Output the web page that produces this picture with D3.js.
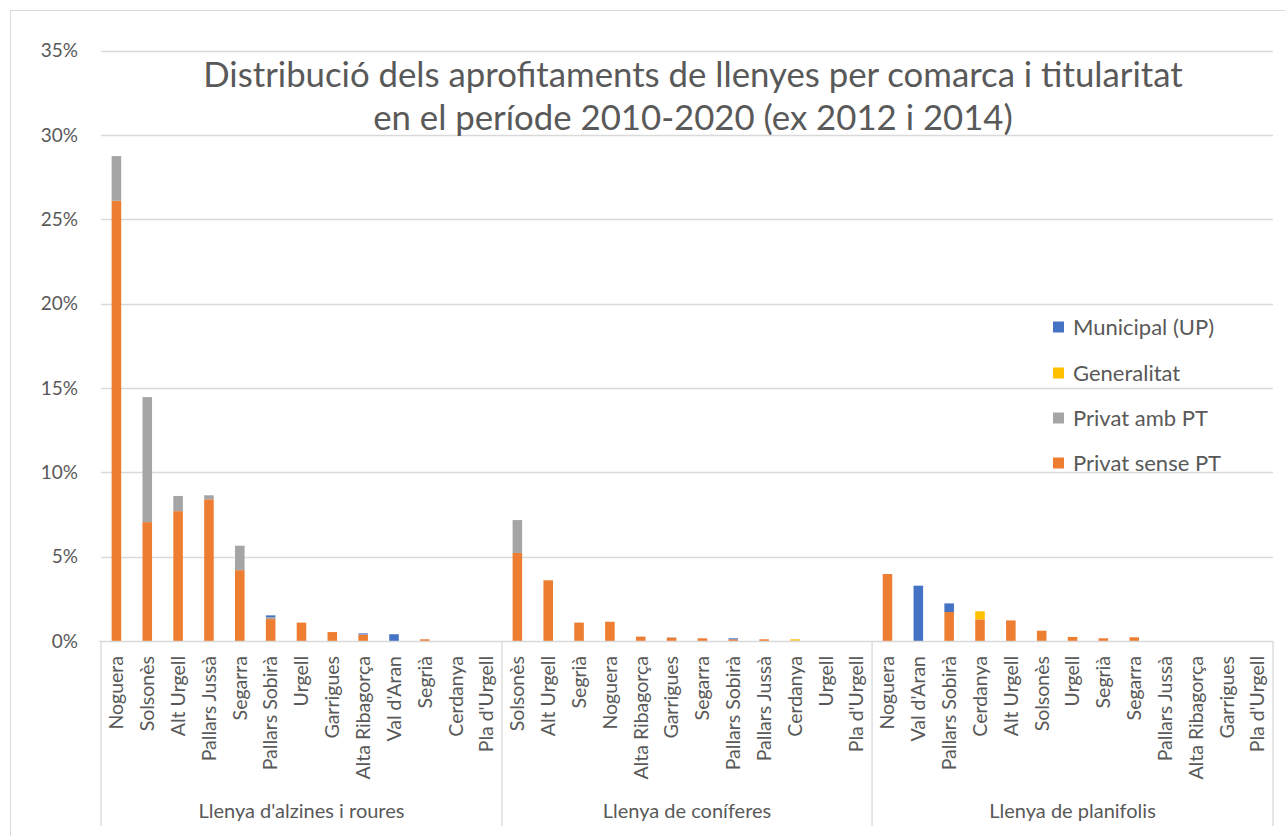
<!DOCTYPE html>
<html>
<head>
<meta charset="utf-8">
<script src="https://cdn.jsdelivr.net/npm/d3@7"></script>
<style>
  html, body { margin: 0; padding: 0; background: #fff; }
  svg { display: block; }
  text { font-family: Lato, "Open Sans", sans-serif; fill: #595959; }
</style>
</head>
<body>
<svg id="chart" width="1285" height="836"></svg>
<script>
// ---- DATA ----
const titleLines = ["Distribució dels aprofitaments de llenyes per comarca i titularitat",
                    "en el període 2010-2020 (ex 2012 i 2014)"];
const groups = ["Llenya d'alzines i roures", "Llenya de coníferes", "Llenya de planifolis"];
const comarquesAlzines = ["Noguera", "Solsonès", "Alt Urgell", "Pallars Jussà", "Segarra", "Pallars Sobirà",
  "Urgell", "Garrigues", "Alta Ribagorça", "Val d'Aran", "Segrià", "Cerdanya", "Pla d'Urgell"];
const comarquesConiferes = ["Solsonès", "Alt Urgell", "Segrià", "Noguera", "Alta Ribagorça", "Garrigues",
  "Segarra", "Pallars Sobirà", "Pallars Jussà", "Cerdanya", "Urgell", "Pla d'Urgell"];
const comarquesPlanifolis = ["Noguera", "Val d'Aran", "Pallars Sobirà", "Cerdanya", "Alt Urgell", "Solsonès",
  "Urgell", "Segrià", "Segarra", "Pallars Jussà", "Alta Ribagorça", "Garrigues", "Pla d'Urgell"];

// values in % (alzines | coníferes | planifolis)
const privatSensePT = [26.1, 7.05, 7.7, 8.4, 4.2, 1.3, 1.09, 0.53, 0.37, 0, 0.1, 0, 0,
                       5.22, 3.6, 1.09, 1.14, 0.26, 0.2, 0.16, 0.1, 0.1, 0.02, 0, 0,
                       3.97, 0, 1.72, 1.28, 1.22, 0.61, 0.24, 0.16, 0.22, 0, 0, 0, 0];
const privatAmbPT   = [2.65, 7.41, 0.9, 0.24, 1.45, 0.12, 0, 0, 0.02, 0, 0, 0, 0,
                       1.95, 0, 0, 0, 0, 0.02, 0, 0, 0, 0, 0, 0,
                       0, 0, 0, 0, 0, 0, 0, 0, 0, 0, 0, 0, 0];
const generalitat   = [0, 0, 0, 0, 0, 0, 0, 0, 0, 0, 0, 0, 0,
                       0, 0, 0, 0, 0, 0, 0, 0, 0, 0.08, 0, 0,
                       0, 0, 0, 0.48, 0, 0, 0, 0, 0, 0, 0, 0, 0];
const municipalUP   = [0, 0, 0, 0, 0, 0.1, 0, 0, 0.06, 0.4, 0, 0, 0,
                       0, 0, 0, 0, 0, 0, 0, 0.06, 0, 0, 0, 0,
                       0, 3.28, 0.51, 0, 0, 0, 0, 0, 0, 0, 0, 0, 0];
const seriesNames = ["Municipal (UP)", "Generalitat", "Privat amb PT", "Privat sense PT"];
const seriesColors = ["#4472C4", "#FFC000", "#A5A5A5", "#ED7D31"];
const yTicks = [0, 5, 10, 15, 20, 25, 30, 35];

// ---- BUILD TABLE ----
const groupCats = [comarquesAlzines, comarquesConiferes, comarquesPlanifolis];
const rows = [];
groupCats.forEach((cats, gi) => cats.forEach(c => rows.push({ key: gi + "|" + c, group: gi, name: c })));
rows.forEach((r, i) => {
  r["Privat sense PT"] = privatSensePT[i];
  r["Privat amb PT"] = privatAmbPT[i];
  r["Generalitat"] = generalitat[i];
  r["Municipal (UP)"] = municipalUP[i];
});
const stackKeys = ["Privat sense PT", "Privat amb PT", "Generalitat", "Municipal (UP)"];
const color = d3.scaleOrdinal().domain(seriesNames).range(seriesColors);

// ---- LAYOUT ----
const svg = d3.select("#chart");
const left = 101, right = 1273, y0 = 641, yTop = 50.7, axisBottom = 826;

svg.append("rect").attr("x", 10.5).attr("y", 10.5).attr("width", 1400).attr("height", 1000)
  .attr("fill", "#fff").attr("stroke", "#D9D9D9").attr("stroke-width", 1);

const x = d3.scaleBand().domain(rows.map(r => r.key)).range([left, right])
  .paddingInner(0.69).paddingOuter(0.345);
const y = d3.scaleLinear().domain([0, 35]).range([y0, yTop]);

// gridlines
svg.append("g").selectAll("line").data(yTicks.filter(t => t > 0)).join("line")
  .attr("x1", left).attr("x2", right)
  .attr("y1", d => Math.round(y(d)) + 0.5).attr("y2", d => Math.round(y(d)) + 0.5)
  .attr("stroke", "#D9D9D9").attr("stroke-width", 1.3);

// y axis labels
const yAxis = svg.append("g").attr("transform", `translate(${left - 23},0)`)
  .call(d3.axisLeft(y).tickValues(yTicks).tickFormat(d => d + "%").tickSize(0).tickPadding(0));
yAxis.select(".domain").remove();
yAxis.selectAll("text").style("font-size", "19px").attr("fill", "#595959")
  .style("font-family", "Lato, sans-serif");

// bars
const stacked = d3.stack().keys(stackKeys)(rows);
const bw = x.bandwidth();
svg.append("g").selectAll("g").data(stacked).join("g")
  .attr("fill", d => color(d.key))
  .selectAll("rect").data(d => d).join("rect")
  .attr("x", d => x(d.data.key))
  .attr("width", bw)
  .attr("y", d => y(d[1]))
  .attr("height", d => Math.max(0, y(d[0]) - y(d[1])));

// category axis
const axisG = svg.append("g");
axisG.append("line").attr("x1", left - 2).attr("x2", right).attr("y1", y0 + 0.5).attr("y2", y0 + 0.5)
  .attr("stroke", "#D9D9D9").attr("stroke-width", 1.3);
const step = x.step();
const boundaries = [0];
groupCats.forEach((c, i) => boundaries.push(boundaries[i] + c.length));
boundaries.forEach(b => {
  const bx = left + b * step;
  axisG.append("line").attr("x1", bx).attr("x2", bx).attr("y1", y0).attr("y2", axisBottom)
    .attr("stroke", "#D9D9D9").attr("stroke-width", 1.3);
});
axisG.selectAll("text.cat").data(rows).join("text").attr("class", "cat")
  .attr("transform", d => `translate(${x(d.key) + bw / 2},${y0 + 15}) rotate(-90)`)
  .attr("text-anchor", "end").attr("dy", "0.35em")
  .style("font-size", "19.5px").text(d => d.name);
axisG.selectAll("text.grp").data(groups).join("text").attr("class", "grp")
  .attr("x", (d, i) => left + (boundaries[i] + boundaries[i + 1]) / 2 * step)
  .attr("y", 811).attr("dy", "0.35em").attr("text-anchor", "middle")
  .style("font-size", "20px").text(d => d);

// title
const title = svg.append("g");
const t1 = title.append("text").attr("x", 693).attr("y", 75).attr("dy", "0.35em")
  .attr("text-anchor", "middle").style("font-size", "30px").text(titleLines[0]);
const w = t1.node().getComputedTextLength();
const fs = 30 * 980 / w;
t1.style("font-size", fs + "px");
title.append("text").attr("x", 693).attr("y", 118).attr("dy", "0.35em")
  .attr("text-anchor", "middle").style("font-size", fs + "px").text(titleLines[1]);

// legend
const legendY = [327, 373, 418, 463];
const lg = svg.append("g");
seriesNames.forEach((n, i) => {
  lg.append("rect").attr("x", 1053).attr("y", legendY[i] - 5.5).attr("width", 11).attr("height", 11)
    .attr("fill", color(n));
  lg.append("text").attr("x", 1073).attr("y", legendY[i]).attr("dy", "0.35em")
    .style("font-size", "22px").text(n);
});
</script>
</body>
</html>
